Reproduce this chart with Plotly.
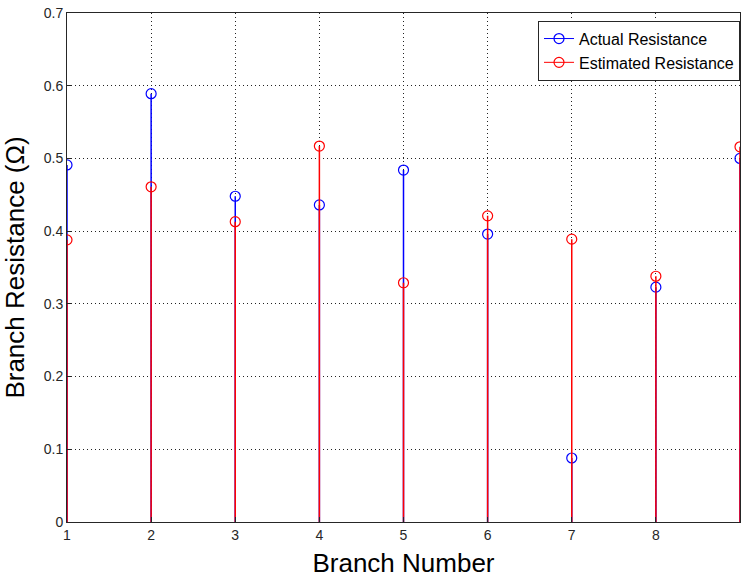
import plotly.graph_objects as go

branches = [1, 2, 3, 4, 5, 6, 7, 8, 9]
actual = [0.491, 0.589, 0.448, 0.436, 0.484, 0.396, 0.088, 0.323, 0.500]
estimated = [0.388, 0.461, 0.413, 0.517, 0.329, 0.421, 0.389, 0.338, 0.516]

def stem_xy(xs, ys):
    sx, sy = [], []
    for x, y in zip(xs, ys):
        sx += [x, x, None]
        sy += [0, y, None]
    return sx, sy

def gap_xy(xs, ys):
    gx, gy = [], []
    for x, y in zip(xs, ys):
        gx += [x, None]
        gy += [y, None]
    return gx, gy

fig = go.Figure()
for name, vals, col in [("Actual Resistance", actual, "#0000ff"),
                        ("Estimated Resistance", estimated, "#ff0000")]:
    sx, sy = stem_xy(branches, vals)
    fig.add_trace(go.Scatter(x=sx, y=sy, mode="lines", line=dict(color=col, width=1.5),
                             showlegend=False, hoverinfo="skip"))
    gx, gy = gap_xy(branches, vals)
    fig.add_trace(go.Scatter(x=gx, y=gy, mode="lines+markers", name=name,
                             line=dict(color=col, width=1),
                             marker=dict(symbol="circle-open", size=10, color=col,
                                         line=dict(width=1.2, color=col))))

font = "Liberation Sans, Arial, sans-serif"
axis_common = dict(showline=True, linecolor="#262626", linewidth=1, mirror=True,
                   showgrid=True, gridcolor="#222222", griddash="1px,3px", gridwidth=1,
                   ticks="inside", ticklen=5, tickcolor="#262626",
                   tickfont=dict(family=font, size=14, color="#262626"),
                   zeroline=False, automargin=False)

fig.update_layout(
    width=741, height=578,
    margin=dict(l=67, r=1, t=13, b=56),
    paper_bgcolor="white", plot_bgcolor="white",
    xaxis=dict(range=[1, 9], tickvals=branches, title=dict(text="Branch Number",
               font=dict(family=font, size=26, color="#000000"), standoff=12), **axis_common),
    yaxis=dict(range=[0, 0.7], dtick=0.1, title=dict(text="Branch Resistance (Ω)",
               font=dict(family=font, size=26, color="#000000"), standoff=13), **axis_common),
    legend=dict(x=1.0, xanchor="right", y=0.985, yanchor="top",
                bgcolor="white", bordercolor="#262626", borderwidth=1,
                font=dict(family=font, size=16, color="#000000"),
                tracegroupgap=0, itemwidth=30),
    showlegend=True,
)

fig.write_html("out.html", config={"displayModeBar": False},
               post_script="document.body.style.margin='0';document.body.style.overflow='hidden';")
